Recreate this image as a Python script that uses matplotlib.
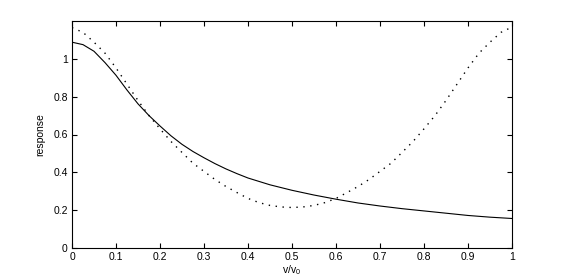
import matplotlib
matplotlib.use("Agg")
import matplotlib.pyplot as plt

plt.rcParams['font.family'] = ['Liberation Sans', 'DejaVu Sans']
plt.rcParams['mathtext.default'] = 'regular'

# Solid curve
x_solid = [0.0, 0.025, 0.05, 0.075, 0.1, 0.125, 0.15, 0.175, 0.2, 0.225, 0.25, 0.275, 0.3,
           0.325, 0.35, 0.375, 0.4, 0.45, 0.5, 0.55, 0.6, 0.65, 0.7, 0.75, 0.8, 0.85, 0.9,
           0.95, 1.0]
y_solid = [1.088, 1.075, 1.04, 0.98, 0.913, 0.835, 0.762, 0.70, 0.645, 0.593, 0.548, 0.51, 0.477,
           0.446, 0.418, 0.393, 0.37, 0.334, 0.305, 0.28, 0.258, 0.238, 0.222, 0.208, 0.196,
           0.184, 0.172, 0.163, 0.156]

# Dotted curve
x_dot = [0.0, 0.025, 0.05, 0.075, 0.1, 0.125, 0.15, 0.175, 0.2, 0.225, 0.25, 0.275, 0.3,
         0.325, 0.35, 0.375, 0.4, 0.425, 0.45, 0.475, 0.5, 0.525, 0.55, 0.575, 0.6,
         0.625, 0.65, 0.675, 0.7, 0.725, 0.75, 0.775, 0.8, 0.825, 0.85, 0.875, 0.9,
         0.925, 0.95, 0.975, 1.0]
y_dot = [1.165, 1.14, 1.088, 1.03, 0.952, 0.866, 0.78, 0.70, 0.63, 0.563, 0.505, 0.448, 0.405,
         0.362, 0.325, 0.293, 0.262, 0.24, 0.225, 0.217, 0.214, 0.217, 0.225, 0.24, 0.262,
         0.293, 0.325, 0.362, 0.405, 0.448, 0.505, 0.563, 0.63, 0.70, 0.78, 0.866, 0.952,
         1.03, 1.088, 1.14, 1.168]

x_ticks = [0, 0.1, 0.2, 0.3, 0.4, 0.5, 0.6, 0.7, 0.8, 0.9, 1]
x_ticklabels = ['0', '0.1', '0.2', '0.3', '0.4', '0.5', '0.6', '0.7', '0.8', '0.9', '1']
y_ticks = [0, 0.2, 0.4, 0.6, 0.8, 1]
y_ticklabels = ['0', '0.2', '0.4', '0.6', '0.8', '1']

fig = plt.figure(figsize=(5.68, 2.79), dpi=100)
ax = fig.add_axes([72/568, 31/279, 440/568, 227/279])

ax.plot(x_solid, y_solid, color='black', linewidth=0.8)
ax.plot(x_dot, y_dot, color='black', linewidth=1.0, linestyle=(0, (1, 4)))

ax.set_xlim(0, 1)
ax.set_ylim(0, 1.2)
ax.set_xticks(x_ticks)
ax.set_xticklabels(x_ticklabels)
ax.set_yticks(y_ticks)
ax.set_yticklabels(y_ticklabels)
ax.tick_params(direction='in', length=3.6, width=0.8, top=True, right=True,
               labelsize=7.5, pad=3)
for s in ax.spines.values():
    s.set_linewidth(0.8)

ax.set_xlabel(r'v/v$_0$', fontsize=7.5, labelpad=1)
ax.set_ylabel('response', fontsize=7.5, labelpad=6)

fig.savefig('out.png', dpi=100)
